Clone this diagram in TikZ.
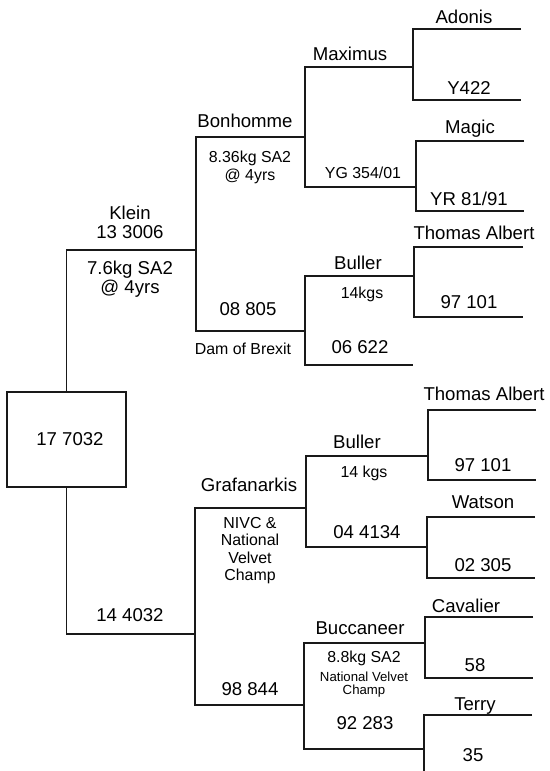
\documentclass[tikz,border=0pt]{standalone}
\usepackage{fontspec}
\setmainfont{Liberation Sans}
\newcommand\pedbr[6]{%
  \coordinate (#1-tl) at (#2,#3);
  \coordinate (#1-bl) at (#2,#4);
  \coordinate (#1-tr) at (#5,#3);
  \coordinate (#1-br) at (#6,#4);
  \draw[ln] (#1-tr) -- (#1-tl) -- (#1-bl) -- (#1-br);}
\begin{document}
\begin{tikzpicture}[x=1pt,y=-1pt,
  ln/.style={line width=1.15pt, draw=black!90},
  big/.style={font=\fontsize{18.6}{19}\selectfont, anchor=base, inner sep=0pt},
  med/.style={font=\fontsize{15.9}{17}\selectfont, anchor=base, inner sep=0pt},
  sml/.style={font=\fontsize{13.2}{14}\selectfont, anchor=base, inner sep=0pt},
  rootbox/.style={draw=black!90, line width=1.8pt, minimum width=119pt, minimum height=95pt, inner sep=0pt, font=\fontsize{18.6}{19}\selectfont}]
\useasboundingbox (0,0) rectangle (549,771);

% root
\node[rootbox] (root) at (66.5,439.5) {\hspace*{7pt}17 7032};
\coordinate (klein) at (196,250);
\coordinate (graf) at (195,634);
\draw[ln] (root.north) |- (klein);
\draw[ln] (root.south) |- (graf);

% brackets
\pedbr{bon}{196}{137}{331}{305}{305}
\pedbr{max}{305}{67}{187}{413}{416}
\pedbr{ado}{413}{29}{100}{521}{521}
\pedbr{mag}{416}{141}{211}{524}{524}
\pedbr{bul}{305}{276}{365}{414}{413}
\pedbr{tha}{414}{247}{317}{523}{523}
\pedbr{gra}{195}{508}{705}{306}{304}
\pedbr{bux}{306}{456}{547}{428}{427}
\pedbr{thb}{428}{410}{480}{536}{536}
\pedbr{wat}{427}{517}{578}{535}{535}
\pedbr{buc}{304}{643}{749}{425}{424}
\pedbr{cav}{425}{617}{678}{533}{533}
\coordinate (ter-tl) at (424,715);
\coordinate (ter-tr) at (532,715);
\coordinate (ter-bl) at (424,771);
\draw[ln] (ter-tr) -- (ter-tl) -- (ter-bl);

% generation 1
\node[big] (kleinA) at (130,219.5) {Klein};
\node[big] (kleinB) at (130,238.5) {13 3006};
\node[big] (kleinC) at (130,274.5) {7.6kg SA2};
\node[big] (kleinD) at (130,293.5) {@ 4yrs};
\node[big] (dam1) at (130,621.5) {14 4032};

% generation 2
\node[big] (bonA) at (245,127.5) {Bonhomme};
\node[med] (bonB) at (250,162.6) {8.36kg SA2};
\node[med] (bonC) at (250,180.6) {@ 4yrs};
\node[big] (dam2) at (248,315.5) {08 805};
\node[med] (dam2b) at (243,354.6) {Dam of Brexit};
\node[big] (grafA) at (249,491.5) {Grafanarkis};
\node[med] (grafB) at (250,528.6) {NIVC \&};
\node[med] (grafC) at (250,545.6) {National};
\node[med] (grafD) at (250,563.6) {Velvet};
\node[med] (grafE) at (250,580.6) {Champ};
\node[big] (dam3) at (250,695.5) {98 844};

% generation 3
\node[big] (maxA) at (350,60.5) {Maximus};
\node[med] (yg) at (363,178.6) {YG 354/01};
\node[big] (bulA) at (358,269.5) {Buller};
\node[med] (bulB) at (362,298.6) {14kgs};
\node[big] (d622) at (360,353.5) {06 622};
\node[big] (buxA) at (357,448.5) {Buller};
\node[med] (buxB) at (364,477.6) {14 kgs};
\node[big] (d4134) at (367,538.5) {04 4134};
\node[big] (bucA) at (360,634.5) {Buccaneer};
\node[med] (bucB) at (364,662.6) {8.8kg SA2};
\node[sml] (bucC) at (364,681.7) {National Velvet};
\node[sml] (bucD) at (364,694.7) {Champ};
\node[big] (d283) at (365,729.5) {92 283};

% generation 4
\node[big] (adonis) at (464,23.5) {Adonis};
\node[big] (y422) at (469,94.5) {Y422};
\node[big] (magic) at (470,133.5) {Magic};
\node[big] (yr) at (469,205.5) {YR 81/91};
\node[big] (thaA) at (474,239.5) {Thomas Albert};
\node[big] (thaB) at (469,308.5) {97 101};
\node[big] (thbA) at (484,400.5) {Thomas Albert};
\node[big] (thbB) at (483,471.5) {97 101};
\node[big] (watA) at (483,508.5) {Watson};
\node[big] (watB) at (483,571.5) {02 305};
\node[big] (cavA) at (466,612.5) {Cavalier};
\node[big] (cavB) at (475,671.5) {58};
\node[big] (terA) at (475,710.5) {Terry};
\node[big] (terB) at (473,761.5) {35};
\end{tikzpicture}
\end{document}
